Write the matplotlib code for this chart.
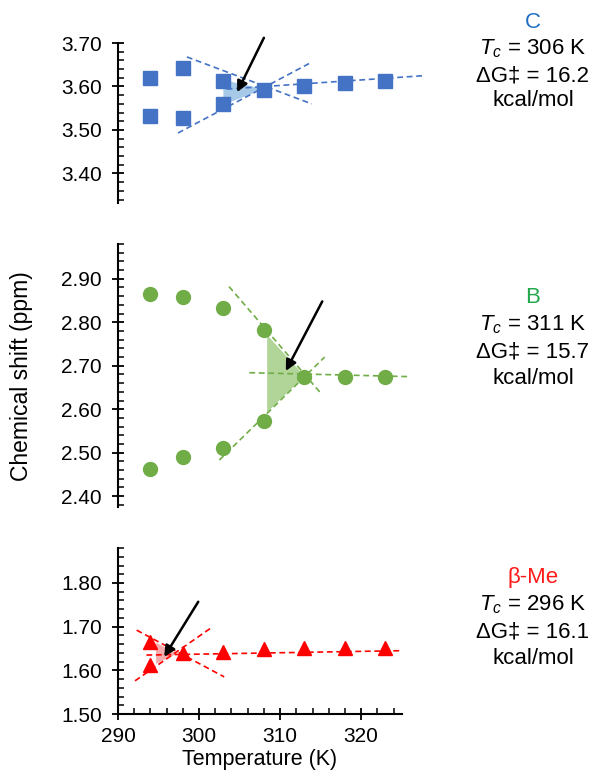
import matplotlib
matplotlib.use("Agg")
import matplotlib.pyplot as plt
from matplotlib.patches import Polygon
from matplotlib.ticker import MultipleLocator

plt.rcParams["font.family"] = ["Liberation Sans", "DejaVu Sans"]
plt.rcParams["mathtext.fontset"] = "custom"
plt.rcParams["mathtext.rm"] = "Liberation Sans"
plt.rcParams["mathtext.it"] = "Liberation Sans:italic"

# ---- data (temperature in K, shift in ppm) ----
# C (top panel)
c_t_split = [294, 298, 303]
c_hi = [3.620, 3.642, 3.613]
c_lo = [3.532, 3.527, 3.560]
c_t_merged = [308, 313, 318, 323]
c_merged = [3.592, 3.600, 3.609, 3.613]
c_guide_down = ([298.5, 313.9], [3.668, 3.560])
c_guide_up = ([297.4, 313.9], [3.493, 3.656])
c_guide_flat = ([303.4, 327.8], [3.594, 3.625])
c_fill = [(303.0, 3.615), (303.0, 3.558), (308.0, 3.594)]
c_arrow = ((308.0, 3.712), (304.7, 3.587))

# B (middle panel)
b_t_split = [294, 298, 303, 308]
b_hi = [2.865, 2.857, 2.832, 2.783]
b_lo = [2.462, 2.491, 2.510, 2.573]
b_t_merged = [313, 318, 323]
b_merged = [2.674, 2.675, 2.675]
b_guide_down = ([303.7, 315.1], [2.882, 2.635])
b_guide_up = ([302.5, 315.5], [2.483, 2.720])
b_guide_flat = ([306.2, 325.8], [2.684, 2.675])
b_fill = [(308.4, 2.771), (308.4, 2.593), (313.0, 2.676)]
b_arrow = ((315.2, 2.848), (310.7, 2.688))

# beta-Me (bottom panel)
m_t_split = [294]
m_hi = [1.665]
m_lo = [1.612]
m_t_merged = [298, 303, 308, 313, 318, 323]
m_merged = [1.640, 1.643, 1.649, 1.650, 1.650, 1.652]
m_guide_down = ([292.3, 303.1], [1.692, 1.585])
m_guide_up = ([292.1, 301.7], [1.576, 1.700])
m_guide_flat = ([293.5, 324.8], [1.635, 1.645])
m_fill = [(294.7, 1.663), (294.7, 1.615), (297.3, 1.638)]
m_arrow = ((299.9, 1.757), (295.7, 1.631))

panels = [
    dict(name="C", tc="306", dg="16.2", color="#4472c4", fill="#9dc3e6", lab_color="#1f6fc5",
         marker="s", ylim=(3.332, 3.70), yticks=[3.40, 3.50, 3.60, 3.70],
         t_split=c_t_split, hi=c_hi, lo=c_lo, t_merged=c_t_merged, merged=c_merged,
         guides=[c_guide_down, c_guide_up, c_guide_flat], poly=c_fill, arrow=c_arrow,
         rect=[0.199, 0.7367, 0.4784, 0.2075], text_y=[22, 49, 76, 101]),
    dict(name="B", tc="311", dg="15.7", color="#70ad47", fill="#a9d18e", lab_color="#22a84a",
         marker="o", ylim=(2.375, 2.98), yticks=[2.40, 2.50, 2.60, 2.70, 2.80, 2.90],
         t_split=b_t_split, hi=b_hi, lo=b_lo, t_merged=b_t_merged, merged=b_merged,
         guides=[b_guide_down, b_guide_up, b_guide_flat], poly=b_fill, arrow=b_arrow,
         rect=[0.199, 0.3424, 0.4784, 0.3411], text_y=[298, 325, 352, 378]),
    dict(name="β-Me", tc="296", dg="16.1", color="#ff0000", fill="#f4a3a3", lab_color="#ff1a1a",
         marker="^", ylim=(1.50, 1.88), yticks=[1.50, 1.60, 1.70, 1.80],
         t_split=m_t_split, hi=m_hi, lo=m_lo, t_merged=m_t_merged, merged=m_merged,
         guides=[m_guide_down, m_guide_up, m_guide_flat], poly=m_fill, arrow=m_arrow,
         rect=[0.199, 0.0739, 0.4784, 0.2153], text_y=[578, 605, 632, 658]),
]

W, H = 593, 771
fig = plt.figure(figsize=(W / 100, H / 100), dpi=100)

for i, p in enumerate(panels):
    ax = fig.add_axes(p["rect"])
    last = i == len(panels) - 1

    ax.add_patch(Polygon(p["poly"], closed=True, facecolor=p["fill"], edgecolor="none",
                         alpha=0.9, zorder=1))
    for gx, gy in p["guides"]:
        ax.plot(gx, gy, ls=(0, (3.5, 2.2)), lw=1.2, color=p["color"], zorder=2, clip_on=False)
    ms = 10 if p["marker"] != "^" else 10.5
    for ys in (p["hi"], p["lo"]):
        ax.plot(p["t_split"], ys, ls="none", marker=p["marker"], ms=ms, color=p["color"],
                mec=p["color"], zorder=3, clip_on=False)
    ax.plot(p["t_merged"], p["merged"], ls="none", marker=p["marker"], ms=ms, color=p["color"],
            mec=p["color"], zorder=3, clip_on=False)

    (x0, y0), (x1, y1) = p["arrow"]
    ax.annotate("", xy=(x1, y1), xytext=(x0, y0), annotation_clip=False,
                arrowprops=dict(arrowstyle="-|>", color="black", lw=1.8, mutation_scale=16,
                                shrinkA=0, shrinkB=0), zorder=4)

    ax.set_xlim(290, 325)
    ax.set_ylim(*p["ylim"])
    ax.set_yticks(p["yticks"])
    ax.set_yticklabels([f"{v:.2f}" for v in p["yticks"]])
    ax.yaxis.set_minor_locator(MultipleLocator(0.02))
    ax.tick_params(axis="y", which="major", direction="inout", length=9, width=1.3,
                   labelsize=15, pad=7)
    ax.tick_params(axis="y", which="minor", direction="in", length=4, width=1.1)

    for s in ("top", "right"):
        ax.spines[s].set_visible(False)
    ax.spines["left"].set_linewidth(1.5)
    ax.patch.set_visible(False)

    if last:
        ax.set_xticks([290, 300, 310, 320])
        ax.xaxis.set_minor_locator(MultipleLocator(2))
        ax.tick_params(axis="x", which="major", direction="inout", length=9, width=1.3,
                       labelsize=15, pad=5)
        ax.tick_params(axis="x", which="minor", direction="in", length=4, width=1.1)
        ax.spines["bottom"].set_linewidth(1.5)
        ax.set_xlabel("Temperature (K)", fontsize=15.5, labelpad=2)
    else:
        ax.spines["bottom"].set_visible(False)
        ax.set_xticks([])

    ty = p["text_y"]
    cx = 533 / W
    fig.text(cx, 1 - ty[0] / H, p["name"], color=p["lab_color"], fontsize=16,
             ha="center", va="center")
    fig.text(cx, 1 - ty[1] / H, f"$T_c$ = {p['tc']} K", fontsize=16, ha="center", va="center")
    fig.text(cx, 1 - ty[2] / H, f"ΔG‡ = {p['dg']}", fontsize=16, ha="center", va="center")
    fig.text(cx, 1 - ty[3] / H, "kcal/mol", fontsize=16, ha="center", va="center")

fig.text(22 / W, 1 - 376 / H, "Chemical shift (ppm)", rotation=90, fontsize=16.5,
         ha="center", va="center")

fig.savefig("out.png", dpi=100)
